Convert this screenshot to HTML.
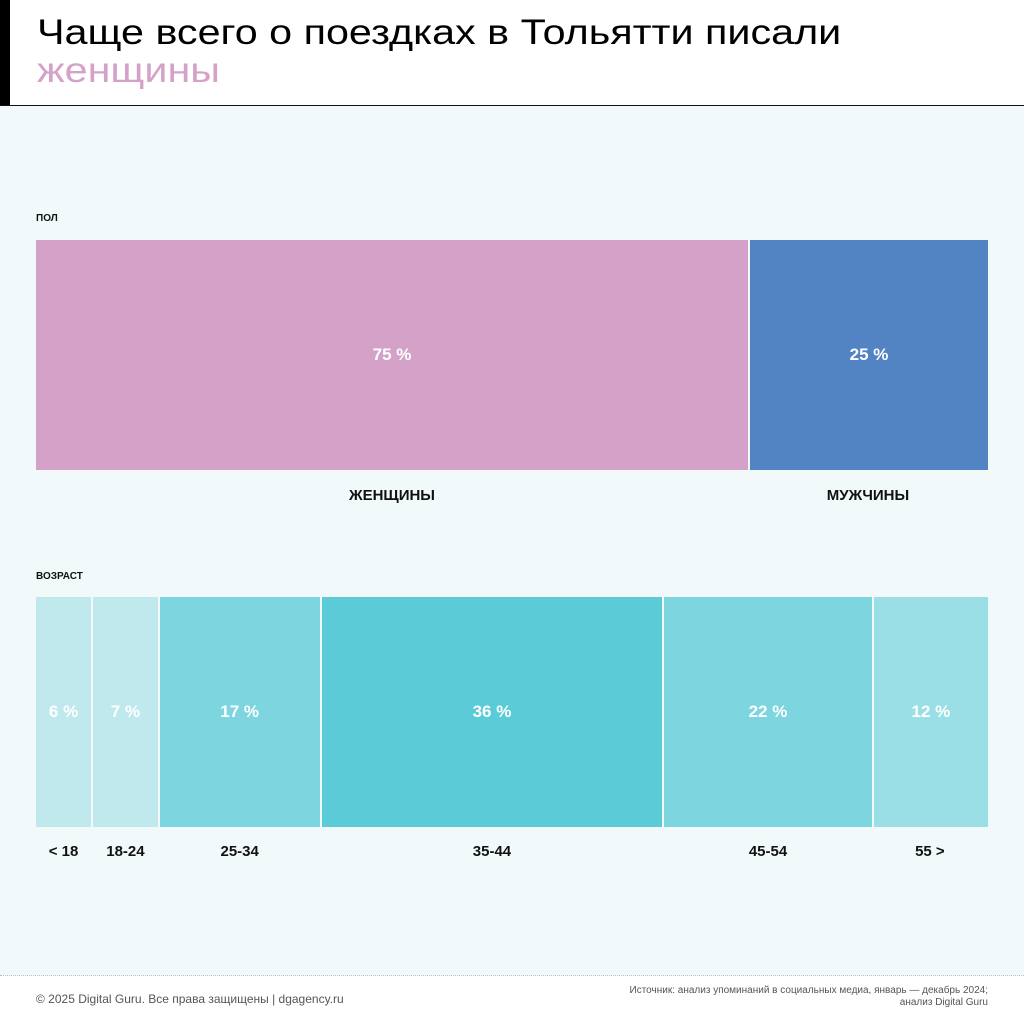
<!DOCTYPE html>
<html><head><meta charset="utf-8"><style>
body{margin:0;width:1024px;height:1024px;position:relative;background:#f1f9fa;font-family:"Liberation Sans","DejaVu Sans",sans-serif;overflow:hidden}
#hdr{position:absolute;left:0;top:0;width:1024px;height:105px;background:#fff;border-bottom:1px solid #111}
#bar{position:absolute;left:0;top:0;width:10px;height:105px;background:#000}
.t{position:absolute;left:37px;font-size:35px;line-height:40px;transform:scaleX(1.18);transform-origin:left;white-space:nowrap}
.sec{position:absolute;left:36px;font-size:10px;font-weight:bold;color:#111}
.seg{position:absolute;color:#fff;font-weight:bold;font-size:17px;display:flex;align-items:center;justify-content:center}
.lbl{position:absolute;font-size:15px;font-weight:bold;color:#111;text-align:center;transform:translateX(-50%);white-space:nowrap}
#ftr{position:absolute;left:0;top:975px;width:1024px;height:49px;background:#fff;border-top:1px dotted #bbb}
</style></head><body>
<div id="hdr"><div id="bar"></div>
<div class="t" style="top:13px;color:#000">Чаще всего о поездках в Тольятти писали</div>
<div class="t" style="top:51px;color:#d4a2c9">женщины</div></div>
<div class="sec" style="top:213px">ПОЛ</div>
<div class="sec" style="top:571px">ВОЗРАСТ</div>
<div id="chart"></div>
<div id="ftr">
<div style="position:absolute;left:36px;top:16px;font-size:12px;color:#555">© 2025 Digital Guru. Все права защищены | dgagency.ru</div>
<div style="position:absolute;right:36px;top:9px;font-size:10px;color:#555;text-align:right;line-height:12px">Источник: анализ упоминаний в социальных медиа, январь — декабрь 2024;<br>анализ Digital Guru</div></div>
<script>
const genderCats=["ЖЕНЩИНЫ","МУЖЧИНЫ"];
const genderVals=[75,25];
const ageCats=["< 18","18-24","25-34","35-44","45-54","55 >"];
const ageVals=[6,7,17,36,22,12];
const genderColors=["#d4a2c9","#5284c4"];
const ageColors=["#c0e9ee","#c0e9ee","#7dd5df","#5ccbd8","#7dd5df","#9adfe6"];
const X0=36,W=952;
const chart=document.getElementById('chart');
function draw(cats,vals,cols,top,h,lblTop,name){
  const tot=vals.reduce((a,b)=>a+b,0);let acc=0;
  vals.forEach((v,i)=>{
    const x=X0+acc/tot*W,w=v/tot*W;acc+=v;
    const last=i===vals.length-1;
    const s=document.createElement('div');s.className='seg';
    
    
    s.style.cssText=`left:${x}px;top:${top}px;width:${last?w:w-2}px;height:${h}px;background:${cols[i]}`;
    s.textContent=v+' %';chart.appendChild(s);
    const l=document.createElement('div');l.className='lbl';
    
    
    l.style.left=(x+w/2-1)+'px';l.style.top=lblTop+'px';l.textContent=cats[i];chart.appendChild(l);
  });
}
draw(genderCats,genderVals,genderColors,240,230,487,'gender');
draw(ageCats,ageVals,ageColors,597,230,843,'age');
</script>
</body></html>
